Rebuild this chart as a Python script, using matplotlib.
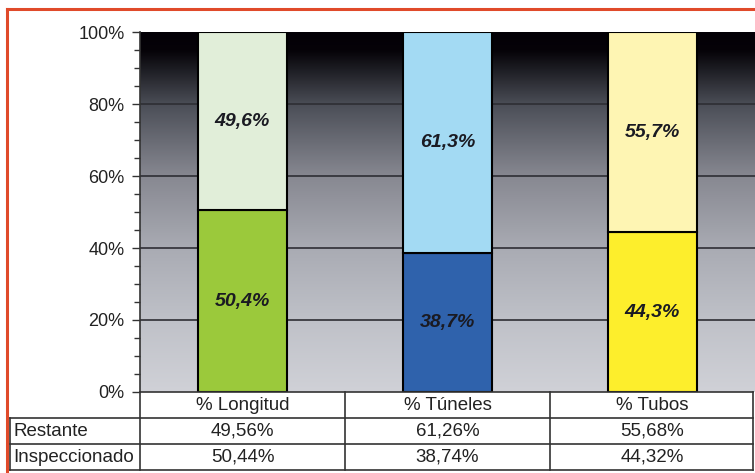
import numpy as np
import matplotlib
matplotlib.use("Agg")
import matplotlib.pyplot as plt
from matplotlib.colors import LinearSegmentedColormap
from matplotlib.lines import Line2D

plt.rcParams['font.family'] = ['Liberation Sans', 'DejaVu Sans']

categories = ['% Longitud', '% Túneles', '% Tubos']
inspeccionado = [50.44, 38.74, 44.32]
restante = [49.56, 61.26, 55.68]
row_labels = ['Restante', 'Inspeccionado']
yticks = [0, 20, 40, 60, 80, 100]

bottom_colors = ['#9BC93B', '#2F62AC', '#FDEE2C']
top_colors = ['#E1EED9', '#A3DAF3', '#FEF5B3']

W, H = 755, 473
fig = plt.figure(figsize=(W / 100, H / 100), dpi=100)
fig.patch.set_facecolor('white')

# red frame (left and top visible)
fig.add_artist(Line2D([7 / W, 7 / W], [0, 1 - 9 / H], color='#E04A2A', lw=2.2))
fig.add_artist(Line2D([7 / W, 1], [1 - 9 / H, 1 - 9 / H], color='#E04A2A', lw=2.2))

ax_l, ax_r, ax_t, ax_b = 140, 755, 32, 392
ax = fig.add_axes([ax_l / W, 1 - ax_b / H, (ax_r - ax_l) / W, (ax_b - ax_t) / H])

x = np.arange(len(categories))
ax.set_xlim(-0.5, len(categories) - 0.5)
ax.set_ylim(0, 100)

# gradient background
cmap = LinearSegmentedColormap.from_list('bg', [
    (0.0, '#d0d1d7'), (0.2, '#bfc1c8'), (0.4, '#a9abb3'), (0.6, '#878891'),
    (0.8, '#4b4e57'), (0.9, '#1c1c22'), (0.95, '#060308'), (1.0, '#030006')])
grad = np.linspace(0, 1, 256).reshape(-1, 1)
ax.imshow(grad, extent=(-0.5, len(categories) - 0.5, 0, 100), origin='lower',
          aspect='auto', cmap=cmap, zorder=0)

for yv in yticks[1:-1]:
    ax.axhline(yv, color='#2e2e34', lw=1.2, zorder=1)

bw = 0.43
ax.bar(x, inspeccionado, bw, color=bottom_colors, edgecolor='black', lw=1.5, zorder=3)
ax.bar(x, restante, bw, bottom=inspeccionado, color=top_colors, edgecolor='black', lw=1.5, zorder=3)

for i in range(len(categories)):
    ax.text(x[i], inspeccionado[i] / 2, f"{inspeccionado[i]:.1f}%".replace('.', ','),
            ha='center', va='center', fontsize=14, fontweight='bold', style='italic',
            color='#1a1a22', zorder=4)
    ax.text(x[i], inspeccionado[i] + restante[i] / 2, f"{restante[i]:.1f}%".replace('.', ','),
            ha='center', va='center', fontsize=14, fontweight='bold', style='italic',
            color='#1a1a22', zorder=4)

ax.set_yticks(yticks)
ax.set_yticklabels([f"{v}%" for v in yticks], fontsize=13, color='#222222')
ax.set_yticks(np.arange(0, 101, 5), minor=True)
ax.tick_params(axis='y', which='major', length=6, width=1, color='#333333', pad=5)
ax.tick_params(axis='y', which='minor', length=4, width=1, color='#333333')
ax.set_xticks([])
for s in ['top', 'right', 'bottom']:
    ax.spines[s].set_visible(False)
ax.spines['left'].set_color('#333333')
ax.spines['left'].set_linewidth(1.2)

# data table below
tab_l, tab_t, tab_b = 10, 392, 470
unit = (ax_r - ax_l) / len(categories)
extra = (ax_l - tab_l) / unit
tax = fig.add_axes([tab_l / W, 1 - tab_b / H, (ax_r - tab_l) / W, (tab_b - tab_t) / H])
tax.set_xlim(-0.5 - extra, len(categories) - 0.5)
tax.set_ylim(3, 0)
tax.axis('off')
lc = '#333333'
lw = 1.2
x0 = -0.5 - extra
x_end = len(categories) - 0.5 - 0.01
tax.plot([-0.5, x_end], [0, 0], color=lc, lw=lw, clip_on=False)
for yy in [1, 2, 3]:
    tax.plot([x0, x_end], [yy, yy], color=lc, lw=lw, clip_on=False)
tax.plot([x0, x0], [1, 3], color=lc, lw=lw, clip_on=False)
for xv in np.arange(len(categories) + 1) - 0.5:
    xx = min(xv, x_end)
    tax.plot([xx, xx], [0, 3], color=lc, lw=lw, clip_on=False)

fs = 13.5
for i, c in enumerate(categories):
    tax.text(i, 0.5, c, ha='center', va='center', fontsize=fs, color='#222222')
    tax.text(i, 1.5, f"{restante[i]:.2f}%".replace('.', ','), ha='center', va='center',
             fontsize=fs, color='#222222')
    tax.text(i, 2.5, f"{inspeccionado[i]:.2f}%".replace('.', ','), ha='center', va='center',
             fontsize=fs, color='#222222')
for j, lab in enumerate(row_labels):
    tax.text(x0 + 0.015, 1.5 + j, lab, ha='left', va='center', fontsize=fs, color='#222222')

fig.savefig('out.png', dpi=100)
